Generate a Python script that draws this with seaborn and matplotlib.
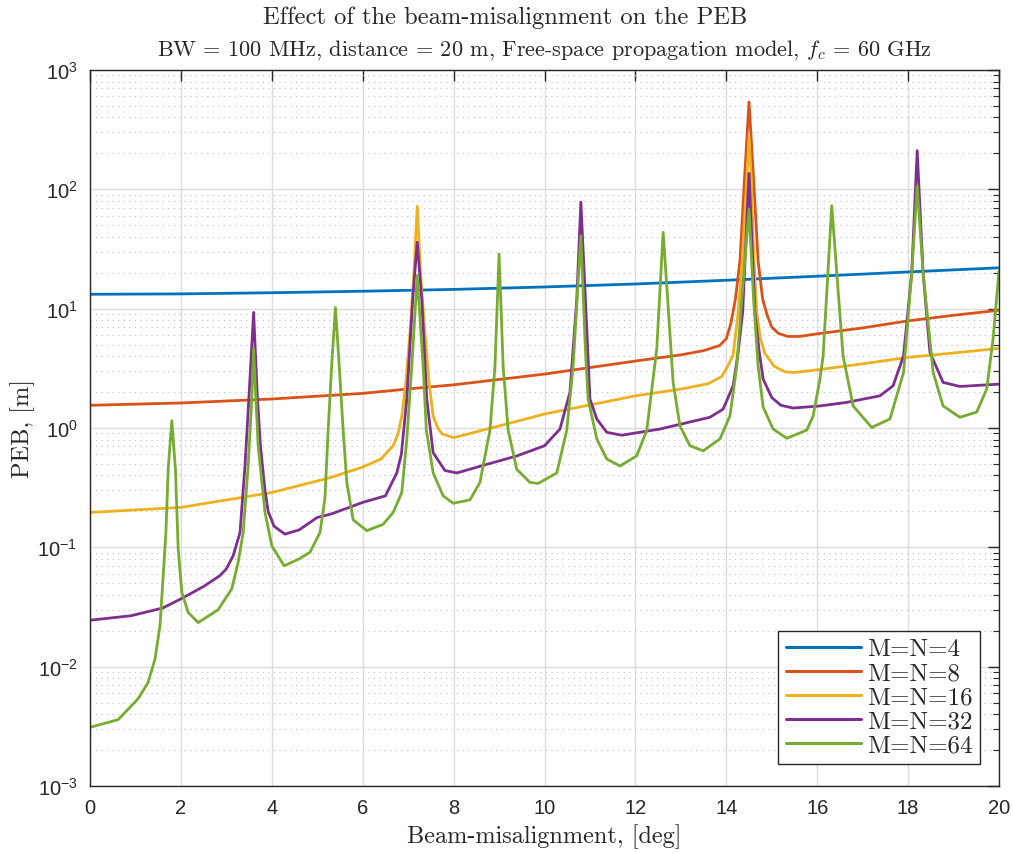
import numpy as np
import pandas as pd
import matplotlib
matplotlib.use("Agg")
import matplotlib.pyplot as plt
import seaborn as sns
from matplotlib.ticker import FuncFormatter, LogLocator, NullFormatter
from matplotlib.lines import Line2D

# ---------------- data ----------------
labels = ["M=N=4", "M=N=8", "M=N=16", "M=N=32", "M=N=64"]
colors = ["#0072BD", "#D95319", "#EDB120", "#7E2F8E", "#77AC30"]

x4 = [0, 2, 4, 6, 8, 10, 12, 14, 16, 18, 20]
y4 = [13.2, 13.3, 13.6, 14.0, 14.5, 15.2, 16.1, 17.3, 18.7, 20.3, 22.0]

x8 = [0, 2, 4, 6, 7.2, 8, 10, 12, 13, 13.5, 13.85, 14.0, 14.1, 14.2, 14.3, 14.4, 14.5,
      14.6, 14.7, 14.8, 14.9, 15.0, 15.15, 15.35, 15.6, 16.0, 17.0, 18.0, 19.0, 20.0]
y8 = [1.55, 1.62, 1.75, 1.95, 2.16, 2.30, 2.83, 3.64, 4.10, 4.45, 4.9, 5.6, 7.5, 12, 25, 122, 540,
      122, 25, 12, 8.8, 7.0, 6.2, 5.85, 5.85, 6.15, 6.9, 7.9, 8.8, 9.7]

x16 = [0, 2, 4, 5.3, 6.0, 6.4, 6.67, 6.78, 6.86, 6.95, 7.04, 7.12, 7.2, 7.28, 7.37, 7.46, 7.55,
       7.65, 7.75, 8.0, 9.0, 10.0, 11.0, 12.0, 13.0, 13.6, 13.9, 14.05, 14.15, 14.26, 14.35,
       14.45, 14.5, 14.55, 14.6, 14.67, 14.75, 14.85, 15.05, 15.3, 15.5, 16.0, 17.0, 18.0, 19.0, 20.0]
y16 = [0.196, 0.216, 0.288, 0.385, 0.47, 0.55, 0.71, 0.9, 1.26, 2.4, 6.3, 18, 72, 18, 6.3, 2.4, 1.26,
       1.0, 0.89, 0.83, 1.04, 1.31, 1.56, 1.86, 2.12, 2.35, 2.7, 3.4, 4.1, 9.3, 25,
       122, 273, 122, 30, 9.3, 5.6, 4.2, 3.3, 2.95, 2.92, 3.07, 3.45, 3.91, 4.25, 4.65]

x32 = [0, 0.9, 1.6, 2.0, 2.5, 2.86, 3.0, 3.15, 3.3, 3.41, 3.5, 3.6, 3.68, 3.75, 3.85, 3.92, 4.05,
       4.29, 4.6, 5.0, 5.3, 5.6, 6.0, 6.5, 6.75, 6.85, 6.97, 7.1, 7.2, 7.3, 7.41, 7.55, 7.81, 8.07,
       8.6, 9.4, 10.0, 10.34, 10.56, 10.71, 10.8, 10.9, 11.0, 11.15, 11.37, 11.7, 12.54, 13.64,
       13.93, 14.15, 14.25, 14.36, 14.5, 14.63, 14.72, 14.81, 15.0, 15.2, 15.47, 16.06, 16.65,
       17.38, 17.67, 17.9, 18.08, 18.2, 18.33, 18.48, 18.77, 19.14, 20.0]
y32 = [0.0245, 0.0267, 0.031, 0.037, 0.047, 0.058, 0.066, 0.085, 0.133, 0.48, 1.9, 9.3, 1.9, 0.71,
       0.30, 0.20, 0.15, 0.129, 0.14, 0.178, 0.19, 0.209, 0.238, 0.27, 0.42, 0.6, 1.75, 12, 36, 12,
       1.75, 0.62, 0.44, 0.42, 0.48, 0.585, 0.71, 0.98, 1.99, 12, 78, 12, 1.75, 1.19, 0.92, 0.87,
       0.98, 1.23, 1.44, 2.26, 4.0, 9.3, 136, 9.3, 4.5, 2.57, 1.8, 1.55, 1.47, 1.53, 1.64, 1.86,
       2.26, 4.03, 20, 211, 20, 4.3, 2.41, 2.23, 2.33]

x64 = [0, 0.62, 1.06, 1.28, 1.43, 1.54, 1.61, 1.67, 1.72, 1.8, 1.88, 1.94, 2.02, 2.16, 2.38,
       2.82, 3.12, 3.26, 3.37, 3.48, 3.56, 3.6, 3.65, 3.70, 3.85, 4.0, 4.27, 4.6, 4.84, 5.06,
       5.17, 5.24, 5.32, 5.4, 5.48, 5.57, 5.65, 5.79, 6.09, 6.45, 6.67, 6.86, 6.97, 7.08, 7.2,
       7.33, 7.4, 7.55, 7.77, 7.99, 8.36, 8.58, 8.8, 8.91, 9.0, 9.09, 9.2, 9.39, 9.68, 9.86,
       10.27, 10.49, 10.63, 10.8, 10.9, 10.96, 11.15, 11.37, 11.66, 12.03, 12.25, 12.47, 12.61,
       12.71, 12.83, 12.98, 13.2, 13.49, 13.86, 14.08, 14.23, 14.34, 14.5, 14.6, 14.7, 14.81,
       15.03, 15.33, 15.77, 15.91, 16.06, 16.13, 16.32, 16.43, 16.57, 16.79, 17.2, 17.6, 17.9,
       18.08, 18.2, 18.33, 18.55, 18.77, 19.14, 19.51, 19.73, 19.87, 20.0]
y64 = [0.0031, 0.0036, 0.0054, 0.0074, 0.0116, 0.022, 0.058, 0.133, 0.45, 1.15, 0.45, 0.097,
       0.042, 0.0285, 0.0234, 0.030, 0.045, 0.075, 0.133, 0.48, 1.75, 4.6, 1.75, 0.71, 0.197,
       0.103, 0.070, 0.08, 0.091, 0.133, 0.26, 0.96, 3.5, 10.2, 3.5, 0.96, 0.35, 0.17, 0.138,
       0.156, 0.196, 0.288, 0.8, 3.3, 19, 3.3, 0.96, 0.42, 0.27, 0.234, 0.25, 0.35, 0.96, 3.3,
       28.7, 3.3, 0.96, 0.45, 0.35, 0.343, 0.42, 0.96, 3.3, 40.8, 4.5, 1.75, 0.81, 0.55, 0.48,
       0.585, 0.96, 4.6, 43.6, 12, 2.41, 1.04, 0.71, 0.644, 0.81, 1.26, 3.3, 12, 68, 12, 3.3, 1.5,
       0.98, 0.82, 0.96, 1.26, 2.57, 4.0, 73, 20, 4.0, 1.53, 1.01, 1.19, 2.92, 20, 107, 20, 2.92,
       1.53, 1.23, 1.36, 2.12, 5.6, 20.8]

xticks = [0, 2, 4, 6, 8, 10, 12, 14, 16, 18, 20]
yexps = [-3, -2, -1, 0, 1, 2, 3]

title_main = "Effect of the beam-misalignment on the PEB"
title_sub = r"BW = 100 MHz, distance = 20 m, Free-space propagation model, $f_c$ = 60 GHz"
xlabel = "Beam-misalignment, [deg]"
ylabel = "PEB, [m]"

# ---------------- build long-form table ----------------
series = [(x4, y4), (x8, y8), (x16, y16), (x32, y32), (x64, y64)]
frames = []
for lab, (xs, ys) in zip(labels, series):
    frames.append(pd.DataFrame({"x": xs, "y": ys, "label": lab}))
df = pd.concat(frames, ignore_index=True)

# ---------------- style ----------------
sns.set_style("white")
plt.rcParams["font.family"] = ["Liberation Sans", "DejaVu Sans"]
plt.rcParams["mathtext.fontset"] = "cm"
serif = ["cmr10", "DejaVu Serif"]

fig = plt.figure(figsize=(10.13, 8.54), dpi=100)
ax = fig.add_axes([90 / 1013, 1 - 787 / 854, 909 / 1013, 716 / 854])

sns.lineplot(data=df, x="x", y="y", hue="label", hue_order=labels,
             palette=dict(zip(labels, colors)), sort=False, estimator=None,
             units="label", linewidth=2.0, ax=ax, legend=False)

ax.set_yscale("log")
ax.set_xlim(0, 20)
ax.set_ylim(1e-3, 1e3)
ax.set_xticks(xticks)
ax.set_yticks([10.0 ** e for e in yexps])
ax.yaxis.set_major_formatter(FuncFormatter(lambda v, p: r"$\mathregular{10^{%d}}$" % int(round(np.log10(v)))))
ax.yaxis.set_minor_locator(LogLocator(base=10, subs=np.arange(2, 10)))
ax.yaxis.set_minor_formatter(NullFormatter())

ax.set_axisbelow(True)
ax.grid(True, which="major", color="#dcdcdc", linewidth=1.0, linestyle="-")
ax.yaxis.grid(True, which="minor", color="#c0c0c0", linewidth=0.8, linestyle=(0, (1, 4)))

for s in ax.spines.values():
    s.set_color("#262626")
    s.set_linewidth(1.0)
ax.tick_params(which="both", direction="in", top=True, right=True, colors="#262626",
               labelcolor="#262626", labelsize=14.5)
ax.tick_params(which="major", length=8, width=1.0, pad=9)
ax.tick_params(which="minor", length=4, width=0.8)

ax.set_xlabel(xlabel, family=serif, fontsize=17.5, color="#262626", labelpad=4)
ax.set_ylabel(ylabel, family=serif, fontsize=17.5, color="#262626", labelpad=2)

fig.text(505 / 1013, 1 - 18 / 854, title_main, family=serif, fontsize=17.7,
         ha="center", va="center", color="#262626")
fig.text(544 / 1013, 1 - 50 / 854, title_sub, family=serif, fontsize=16,
         ha="center", va="center", color="#262626")

handles = [Line2D([0], [0], color=c, lw=2.2) for c in colors]
leg = ax.legend(handles, labels, loc="lower right",
                bbox_to_anchor=((980 - 90) / 909, (787 - 765) / 716),
                prop={"family": serif, "size": 18}, frameon=True, fancybox=False,
                edgecolor="#262626", framealpha=1, handlelength=3.0, handletextpad=0.25,
                borderpad=0.3, labelspacing=0.06, borderaxespad=0)
leg.get_frame().set_linewidth(1.0)

fig.savefig("out.png", dpi=100)
